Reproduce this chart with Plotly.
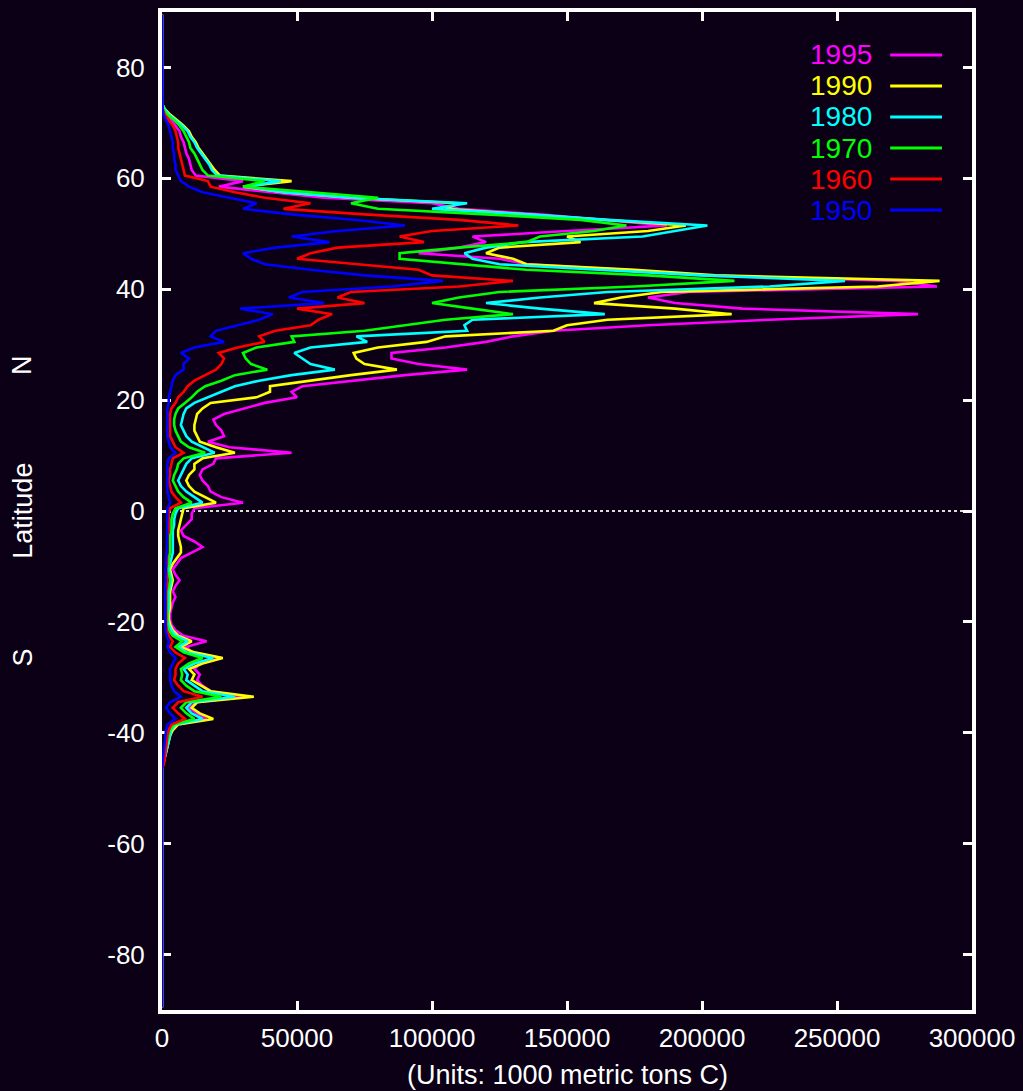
import plotly.graph_objects as go

# Latitude band centres (degrees), north to south
LATITUDES = [89.5, 73.5, 72.5, 71.5, 70.5, 69.5, 68.5, 67.5, 66.5, 65.5,
             64.5, 63.5, 62.5, 61.5, 60.5, 59.5, 58.5, 57.5, 56.5, 55.5,
             54.5, 53.5, 52.5, 51.5, 50.5, 49.5, 48.5, 47.5, 46.5, 45.5,
             44.5, 43.5, 42.5, 41.5, 40.5, 39.5, 38.5, 37.5, 36.5, 35.5,
             34.5, 33.5, 32.5, 31.5, 30.5, 29.5, 28.5, 27.5, 26.5, 25.5,
             24.5, 23.5, 22.5, 21.5, 20.5, 19.5, 18.5, 17.5, 16.5, 15.5,
             14.5, 13.5, 12.5, 11.5, 10.5, 9.5, 8.5, 7.5, 6.5, 5.5,
             4.5, 3.5, 2.5, 1.5, 0.5, -0.5, -1.5, -2.5, -3.5, -4.5,
             -5.5, -6.5, -7.5, -8.5, -9.5, -10.5, -11.5, -12.5, -13.5, -14.5,
             -15.5, -16.5, -17.5, -18.5, -19.5, -20.5, -21.5, -22.5, -23.5, -24.5,
             -25.5, -26.5, -27.5, -28.5, -29.5, -30.5, -31.5, -32.5, -33.5, -34.5,
             -35.5, -36.5, -37.5, -38.5, -39.5, -40.5, -41.5, -42.5, -43.5, -44.5,
             -45.5, -46.5, -89.5]

# Emissions per latitude band (units: 1000 metric tons C)
EMIS_1995 = [0, 0, 500, 2000, 3500, 5000, 6500, 7000, 8000, 8500,
             9000, 10000, 10500, 11000, 12500, 30000, 21000, 40000, 60000, 100000,
             110000, 140000, 165000, 187000, 150000, 115000, 120000, 110000, 95000, 125000,
             135000, 172000, 200000, 272000, 287000, 195000, 180000, 190000, 215000, 280000,
             225000, 180000, 145000, 130000, 120000, 105000, 85000, 85000, 95000, 113000,
             90000, 70000, 52000, 48000, 50000, 38000, 30000, 23000, 19000, 20000,
             22000, 23000, 17000, 25000, 48000, 20000, 19000, 15000, 14000, 15000,
             17000, 18000, 22000, 30000, 12000, 11000, 11000, 9000, 7000, 8000,
             12000, 15000, 11000, 7000, 5500, 4000, 5000, 6500, 5000, 4000,
             5000, 4000, 3500, 3000, 3000, 3500, 5000, 8000, 16500, 9000,
             11000, 22000, 14000, 12000, 14000, 13000, 15000, 18000, 30000, 13000,
             10000, 13000, 16500, 6000, 4000, 3000, 2500, 2000, 1500, 1000,
             500, 0, 0]
EMIS_1990 = [0, 0, 1000, 3000, 5500, 8000, 10000, 11000, 12500, 13500,
             15000, 16500, 18000, 19500, 21500, 48000, 30000, 45000, 70000, 110000,
             105000, 135000, 165000, 194000, 180000, 150000, 155000, 125000, 120000, 130000,
             135000, 175000, 205000, 288000, 265000, 185000, 170000, 160000, 190000, 211000,
             165000, 150000, 145000, 105000, 98000, 80000, 71000, 72000, 75000, 87000,
             70000, 55000, 40000, 40000, 35000, 18000, 15000, 13000, 12500, 12000,
             12000, 13000, 14000, 20000, 27000, 15000, 12000, 12000, 10000, 9000,
             10000, 12000, 16000, 20000, 8000, 7500, 7000, 6500, 6000, 6000,
             6500, 7000, 7000, 5500, 4000, 3000, 3500, 4000, 3500, 3000,
             3000, 3000, 3000, 2500, 2500, 3000, 4000, 6000, 11000, 7000,
             12000, 22500, 15000, 10000, 12000, 11000, 14500, 18000, 34000, 13000,
             11000, 14000, 19000, 6000, 4000, 3000, 2500, 2000, 1500, 1000,
             500, 0, 0]
EMIS_1980 = [0, 0, 1000, 2500, 5000, 7500, 9500, 10500, 12000, 13000,
             14500, 16000, 17500, 18500, 20500, 44000, 31000, 45000, 70000, 113000,
             100000, 135000, 165000, 202000, 190000, 178000, 134000, 120000, 112000, 115000,
             125000, 165000, 200000, 253000, 225000, 165000, 140000, 120000, 140000, 164000,
             115000, 112000, 113000, 72000, 76000, 55000, 49000, 52000, 55000, 64000,
             48000, 36000, 27000, 22000, 17000, 12000, 9000, 8000, 7500, 7000,
             8000, 9000, 11000, 15000, 19500, 11000, 9000, 8000, 7000, 6000,
             7000, 9000, 12000, 15000, 6000, 5000, 4500, 4500, 4000, 4000,
             4000, 4000, 4000, 3500, 3000, 2500, 3000, 3500, 3000, 2500,
             2500, 2500, 2500, 2200, 2000, 2500, 3500, 5000, 9500, 6000,
             9000, 19000, 12000, 8000, 9500, 9000, 12000, 15000, 27000, 11000,
             9000, 11000, 15000, 5000, 3500, 3000, 2500, 2000, 1500, 1000,
             500, 0, 0]
EMIS_1970 = [0, 0, 500, 2000, 4500, 6500, 8000, 9000, 10000, 10500,
             12000, 13000, 14000, 15000, 17000, 38000, 30000, 55000, 80000, 70000,
             80000, 120000, 155000, 172000, 160000, 140000, 135000, 110000, 88000, 88000,
             110000, 135000, 180000, 212000, 175000, 125000, 110000, 100000, 115000, 130000,
             105000, 90000, 75000, 48000, 49000, 35000, 30000, 31000, 33000, 39000,
             27000, 22000, 16000, 13000, 11000, 8500, 6000, 5000, 4500, 4500,
             5000, 6000, 7000, 10000, 16000, 8000, 6000, 5500, 4500, 4000,
             5000, 6000, 8000, 11000, 5000, 4000, 3500, 3500, 3500, 3000,
             3000, 3000, 3000, 2500, 2500, 2000, 2500, 3000, 2500, 2000,
             2000, 2000, 2000, 1800, 1800, 2000, 2500, 4000, 7500, 5000,
             8000, 15000, 10000, 7000, 7500, 7000, 9000, 12000, 22000, 9000,
             7000, 9000, 12000, 4500, 3000, 2500, 2000, 1500, 1000, 800,
             500, 0, 0]
EMIS_1960 = [0, 0, 300, 1000, 2500, 4000, 5000, 5500, 6000, 6000,
             6500, 7000, 7500, 8000, 8500, 17000, 18000, 27000, 38000, 55000,
             45000, 75000, 110000, 132000, 100000, 88000, 97000, 65000, 55000, 50000,
             72000, 95000, 100000, 130000, 110000, 70000, 65000, 75000, 50000, 63000,
             58000, 55000, 42000, 36000, 38000, 28000, 21000, 23000, 22000, 20000,
             16000, 12000, 9500, 8000, 6000, 5000, 3500, 3000, 3000, 3000,
             3000, 3000, 4000, 5000, 8000, 4000, 3500, 3000, 3000, 2500,
             3000, 3500, 5000, 7000, 3000, 2500, 2500, 2500, 2500, 2000,
             2000, 2000, 2000, 2000, 1800, 1500, 1800, 2000, 1800, 1500,
             1500, 1500, 1500, 1400, 1400, 1500, 1800, 2500, 4000, 3000,
             5000, 8500, 6000, 5000, 5000, 4500, 6000, 8000, 15000, 6000,
             4000, 6000, 8500, 3500, 2500, 2000, 1800, 1500, 1200, 1000,
             800, 0, 0]
EMIS_1950 = [0, 0, 200, 500, 1500, 2500, 3000, 3500, 4000, 4000,
             4500, 4500, 5000, 5000, 6000, 7000, 10000, 15000, 25000, 35000,
             30000, 48000, 72000, 90000, 65000, 48000, 62000, 42000, 30000, 33000,
             38000, 55000, 75000, 104000, 85000, 52000, 47000, 60000, 29000, 41000,
             36000, 28000, 20000, 18000, 23000, 12000, 7000, 10000, 8000, 8000,
             5000, 4000, 3500, 3000, 2500, 2500, 2000, 2000, 2000, 2000,
             2000, 2000, 2500, 3000, 5000, 2500, 2000, 2000, 2000, 1800,
             2000, 2000, 2500, 3000, 2000, 2000, 2000, 2000, 2000, 1800,
             1800, 1800, 1800, 1500, 1500, 1300, 1300, 1500, 1300, 1200,
             1200, 1200, 1200, 1100, 1100, 1200, 1300, 1800, 2500, 2000,
             3000, 5000, 4000, 3000, 3000, 3000, 3500, 4500, 7000, 3000,
             1500, 3000, 5000, 2000, 1500, 1200, 1000, 800, 600, 400,
             300, 0, 0]

YEARS = ["1995", "1990", "1980", "1970", "1960", "1950"]
SERIES = [EMIS_1995, EMIS_1990, EMIS_1980, EMIS_1970, EMIS_1960, EMIS_1950]
COLORS = ["#ff00ff", "#ffff00", "#00ffff", "#00ff00", "#ff0000", "#0000ff"]

X_TICKS = [0, 50000, 100000, 150000, 200000, 250000, 300000]
X_TICK_LABELS = ["0", "50000", "100000", "150000", "200000", "250000", "300000"]
Y_TICKS = [-80, -60, -40, -20, 0, 20, 40, 60, 80]
Y_TICK_LABELS = ["-80", "-60", "-40", "-20", "0", "20", "40", "60", "80"]

BG = "#0b0016"
FONT = "Liberation Sans"

fig = go.Figure()
for year, vals, col in zip(YEARS, SERIES, COLORS):
    fig.add_trace(go.Scatter(x=vals, y=LATITUDES, mode="lines", name=year,
                             line=dict(color=col, width=2.6), showlegend=False,
                             hoverinfo="skip"))

# Equator reference line
fig.add_shape(type="line", xref="paper", yref="y", x0=0, x1=1, y0=0, y1=0,
              line=dict(color="#dddddd", width=2, dash="dot"), layer="below")

# Manual legend: label on the left, line sample on the right
for i, (year, col) in enumerate(zip(YEARS, COLORS)):
    yy = 0.957 - i * 0.0311
    fig.add_annotation(x=0.8795, y=yy, xref="paper", yref="paper", text=year,
                       showarrow=False, xanchor="right", yanchor="middle",
                       font=dict(family=FONT, size=28, color=col))
    fig.add_shape(type="line", xref="paper", yref="paper", x0=0.899, x1=0.963,
                  y0=yy, y1=yy, line=dict(color=col, width=3))

fig.add_annotation(x=0.5, y=-0.065, xref="paper", yref="paper",
                   text="(Units: 1000 metric tons C)", showarrow=False,
                   xanchor="center", yanchor="middle",
                   font=dict(family=FONT, size=27, color="white"))
fig.add_annotation(x=-0.172, y=0.5, xref="paper", yref="paper", text="Latitude",
                   showarrow=False, textangle=-90, xanchor="center", yanchor="middle",
                   font=dict(family=FONT, size=27, color="white"))
fig.add_annotation(x=-0.172, y=0.646, xref="paper", yref="paper", text="N",
                   showarrow=False, textangle=-90, xanchor="center", yanchor="middle",
                   font=dict(family=FONT, size=27, color="white"))
fig.add_annotation(x=-0.172, y=0.353, xref="paper", yref="paper", text="S",
                   showarrow=False, textangle=-90, xanchor="center", yanchor="middle",
                   font=dict(family=FONT, size=27, color="white"))

axis_common = dict(showgrid=False, zeroline=False, showline=True, linecolor="white",
                   linewidth=4, mirror="ticks", ticks="inside", ticklen=9,
                   tickwidth=3, tickcolor="white", layer="below traces",
                   tickfont=dict(family=FONT, size=26, color="white"))
fig.update_xaxes(range=[0, 300000], tickvals=X_TICKS, ticktext=X_TICK_LABELS,
                 ticklabelstandoff=2, **axis_common)
fig.update_yaxes(range=[-90, 90], tickvals=Y_TICKS, ticktext=Y_TICK_LABELS,
                 ticklabelstandoff=8, **axis_common)

fig.update_layout(width=1023, height=1091, paper_bgcolor=BG, plot_bgcolor=BG,
                  margin=dict(l=162, r=48, t=8, b=81), showlegend=False)

fig.write_html("out.html", config={"displayModeBar": False},
               post_script="document.body.style.margin='0';"
                           "document.body.style.overflow='hidden';"
                           "document.body.style.background='" + BG + "';")
